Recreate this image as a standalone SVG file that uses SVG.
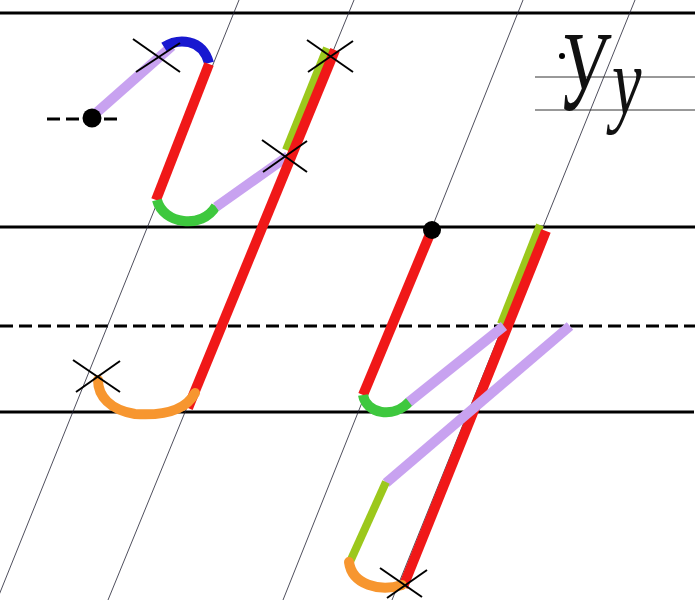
<svg xmlns="http://www.w3.org/2000/svg" width="695" height="600" viewBox="0 0 695 600">
<style>
.hl{stroke:#000;stroke-width:3;fill:none}
.dash{stroke:#000;stroke-width:3;stroke-dasharray:13 6;fill:none}
.slant{stroke:#223;stroke-width:0.8;fill:none}
.thin{stroke:#333;stroke-width:1;fill:none}
.s{fill:none;stroke-width:10;stroke-linecap:butt}
.r{stroke:#f01818}
.lav{stroke:#c8a2f0}
.bl{stroke:#1818d0}
.gr{stroke:#3ec83e}
.yg{stroke:#9cc81c;stroke-width:8}
.or{stroke:#f7962f;stroke-linecap:round}
.x{stroke:#000;stroke-width:2}
.dot{fill:#000}
.samp{font-family:"Liberation Serif","DejaVu Serif",serif;font-style:italic;fill:#111}
</style>
<rect width="695" height="600" fill="#fff"/>
<g id="guides">
<line class="hl" x1="0" y1="13" x2="695" y2="13"/>
<line class="hl" x1="0" y1="227" x2="695" y2="227"/>
<line class="dash" x1="0" y1="326" x2="695" y2="326"/>
<line class="hl" x1="0" y1="412" x2="694" y2="412"/>
<line class="slant" x1="239" y1="0" x2="-3" y2="600"/>
<line class="slant" x1="354" y1="0" x2="108" y2="600"/>
<line class="slant" x1="523" y1="0" x2="283" y2="600"/>
<line class="slant" x1="635" y1="0" x2="392" y2="600"/>
</g>
<g id="sample">
<line class="thin" x1="535" y1="77" x2="695" y2="77"/>
<line class="thin" x1="535" y1="110" x2="695" y2="110"/>
<circle class="dot" cx="562" cy="56" r="3"/>
<text class="samp" transform="translate(558,110) scale(0.6,1)" font-size="115">У</text>
<text class="samp" transform="translate(612,114) scale(0.85,1.25)" font-size="78">у</text>
</g>
<g id="capital-U">
<line class="dash" x1="47" y1="119" x2="122" y2="119"/>
<line class="s lav" x1="95" y1="114" x2="172" y2="46"/>
<path class="s bl" d="M164,47 C178,38 202,38 209,63"/>
<line class="s r" x1="209" y1="64" x2="156" y2="200"/>
<path class="s gr" d="M157,200 C163,224 202,230 216,206"/>
<line class="s lav" x1="216" y1="207" x2="288" y2="156"/>
<line class="s yg" x1="286" y1="150" x2="327" y2="48"/>
<line class="s r" x1="335" y1="50" x2="188" y2="408"/>
<path class="s or" d="M98,380 C98,396 110,410 135,414 C165,416 186,410 195,393"/>
<circle class="dot" cx="92" cy="118" r="9.5"/>
<line class="x" x1="133" y1="39" x2="180" y2="72"/>
<line class="x" x1="136" y1="72" x2="180" y2="43"/>
<line class="x" x1="307" y1="40" x2="353" y2="72"/>
<line class="x" x1="308" y1="72" x2="353" y2="41"/>
<line class="x" x1="262" y1="140" x2="307" y2="172"/>
<line class="x" x1="263" y1="172" x2="307" y2="141"/>
<line class="x" x1="73" y1="360" x2="120" y2="392"/>
<line class="x" x1="76" y1="392" x2="120" y2="361"/>
</g>
<g id="small-u">
<line class="s r" x1="430" y1="234" x2="363" y2="395"/>
<path class="s gr" d="M363,395 C366,413 393,420 410,401"/>
<line class="s yg" x1="501" y1="324" x2="540" y2="225"/>
<line class="s r" x1="546" y1="231" x2="403" y2="587"/>
<line class="s lav" x1="409" y1="402" x2="504" y2="326"/>
<line class="s lav" x1="570" y1="326" x2="386" y2="483"/>
<line class="s yg" x1="386" y1="482" x2="349" y2="564"/>
<path class="s or" d="M349,562 C352,585 380,592 402,585"/>
<circle class="dot" cx="432" cy="230" r="9"/>
<line class="x" x1="380" y1="568" x2="422" y2="597"/>
<line class="x" x1="387" y1="598" x2="427" y2="570"/>
</g>
</svg>
